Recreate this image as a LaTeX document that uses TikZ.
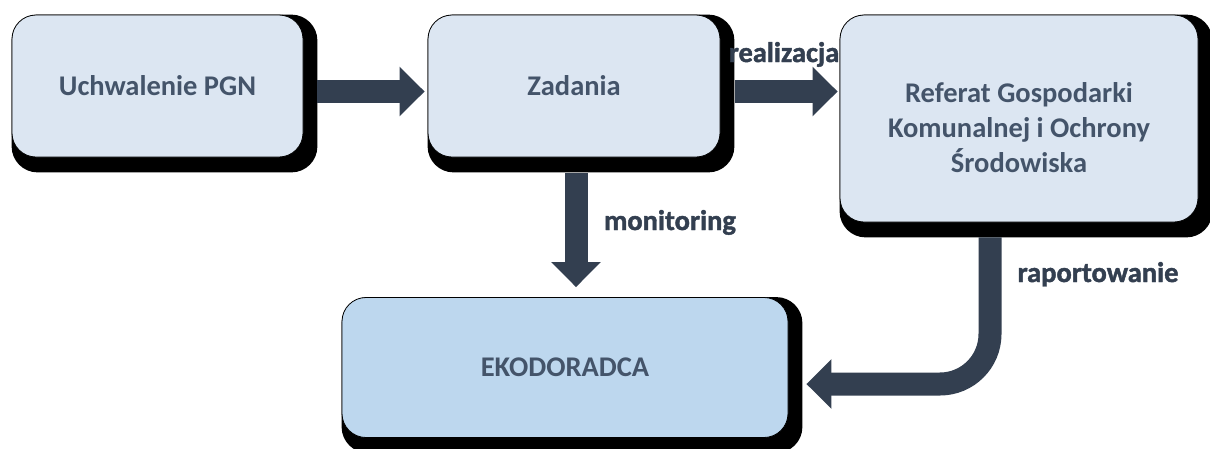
\documentclass[tikz,border=0pt]{standalone}
\usepackage{fontspec}
\setmainfont{Carlito}
\newfontfamily\labelfont{Carlito}[FakeBold=1.5]
\usetikzlibrary{arrows.meta,positioning,backgrounds,calc}
\definecolor{boxfill}{HTML}{DCE6F2}
\definecolor{ekofill}{HTML}{BDD7EE}
\definecolor{flowcol}{HTML}{333F50}
\definecolor{boxtext}{HTML}{44546A}
\tikzset{
  stepbox/.style={rectangle,rounded corners=24pt,draw=black,line width=0.8pt,
    fill=boxfill,text=boxtext,align=center,
    font=\bfseries\fontsize{28.5}{35}\selectfont},
  flow/.style={draw=flowcol,line width=23pt,-{Triangle[length=25pt,width=48pt]}},
  flowlabel/.style={text=flowcol,inner sep=0pt,anchor=base,
    font=\labelfont\bfseries\fontsize{28.5}{34}\selectfont}
}

\begin{document}
\begin{tikzpicture}[x=1pt,y=-1pt]
  \useasboundingbox (0,0) rectangle (1210,448);
  \node[flowlabel] (realizacja) at (784,62) {realizacja};
  \node[stepbox,minimum width=291pt,minimum height=142pt] (uchwalenie) at (157.5,86) {Uchwalenie PGN};
  \node[stepbox,minimum width=292pt,minimum height=142pt] (zadania) at (574,86) {Zadania};
  \node[stepbox,minimum width=358pt,minimum height=207pt] (referat) at (1019,118.5)
    {\rule{0pt}{39pt}Referat Gospodarki\\Komunalnej i Ochrony\\Środowiska};
  \node[stepbox,fill=ekofill,minimum width=446pt,minimum height=140pt] (ekodoradca) at (565,367.5) {EKODORADCA};
  % shadows behind the boxes
  \begin{pgfonlayer}{background}
    \foreach \b in {uchwalenie,zadania,referat,ekodoradca}
      \fill[black,rounded corners=26pt] (\b.north west) rectangle ($(\b.south east)+(14,15)$);
  \end{pgfonlayer}
  \draw[flow] ($(uchwalenie.east)+(14,5.5)$) -- ($(uchwalenie.east -| zadania.west)+(-3,5.5)$);
  \draw[flow] ($(zadania.east)+(15,5.5)$) -- ($(zadania.east -| referat.west)+(-2,5.5)$);
  \draw[flow] ($(zadania.south)+(2,16)$) -- ($(zadania.south |- ekodoradca.north)+(2,-10)$);
  \draw[flow,rounded corners=50pt] ($(referat.south)+(-29,15)$) |- ($(ekodoradca.east)+(18,16.5)$);
  \node[flowlabel] (monitoring) at (670,230) {monitoring};
  \node[flowlabel] (raportowanie) at (1098,282) {raportowanie};
\end{tikzpicture}
\end{document}
